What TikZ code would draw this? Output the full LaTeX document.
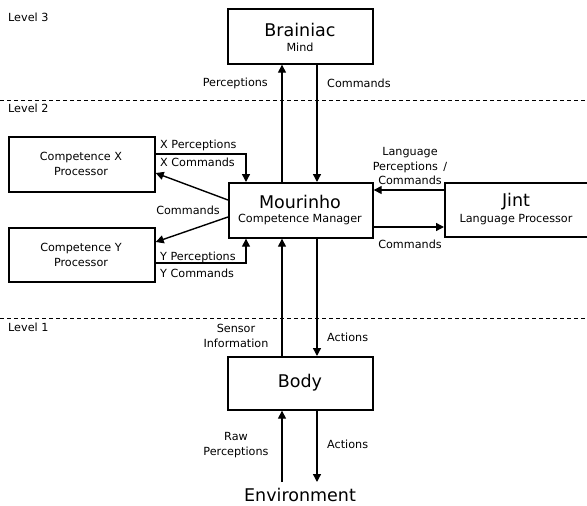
\documentclass[tikz,border=0pt]{standalone}
\usepackage{fontspec}
\setmainfont{DejaVu Sans}
\usetikzlibrary{arrows.meta}

\tikzset{
  box/.style={draw, line width=1.7pt, inner sep=0pt, anchor=north west},
  arr/.style={line width=1.4pt, -{Triangle[length=8pt,width=8pt]}},
  plain/.style={line width=1.4pt},
  lvl/.style={dashed, line width=0.8pt, dash pattern=on 4pt off 3pt},
  big/.style={inner sep=0pt, font=\fontsize{17.5}{20}\selectfont},
  small/.style={inner sep=0pt, font=\fontsize{11.2}{14.5}\selectfont, align=center},
}

\begin{document}
\begin{tikzpicture}[x=1pt, y=-1pt]
  \clip (0,0) rectangle (587,506);
  \fill[white] (0,0) rectangle (587,506);

  % level separators and level names
  \coordinate (l3l) at (0,100);   \coordinate (l3r) at (587,100);
  \coordinate (l2l) at (0,318);   \coordinate (l2r) at (587,318);
  \draw[lvl] (l3l) -- (l3r);
  \draw[lvl] (l2l) -- (l2r);
  \node[small, anchor=west] (lev3) at (8,17)  {Level 3};
  \node[small, anchor=west] (lev2) at (8,108) {Level 2};
  \node[small, anchor=west] (lev1) at (8,327) {Level 1};

  % boxes
  \node[box, minimum width=145pt, minimum height=55pt] (brain) at (227,8)   {};
  \node[box, minimum width=144pt, minimum height=55pt] (mour)  at (228,182) {};
  \node[box, minimum width=146pt, minimum height=55pt] (cx)    at (8,136)   {};
  \node[box, minimum width=146pt, minimum height=54pt] (cy)    at (8,227)   {};
  \node[box, minimum width=160pt, minimum height=54pt] (jint)  at (444,182) {};
  \node[box, minimum width=145pt, minimum height=53pt] (body)  at (227,356) {};

  % box captions
  \node[big]   (braint) at (300,30)  {Brainiac};
  \node[small] (brains) at (300,47)  {Mind};
  \node[big]   (mourt)  at (300,202) {Mourinho};
  \node[small] (mours)  at (300,220) {Competence Manager};
  \node[small] (cxt)    at (81,164)  {Competence X\\Processor};
  \node[small] (cyt)    at (81,255)  {Competence Y\\Processor};
  \node[big]   (jintt)  at (516,202) {Jint};
  \node[small] (jints)  at (516,220) {Language Processor};
  \node[big]   (bodyt)  at (300,383) {Body};
  \node[big]   (env)    at (300,495) {Environment};

  % columns of the vertical connectors
  \coordinate (cL) at (282,0);
  \coordinate (cR) at (317,0);
  \coordinate (cX) at (246,0);
  \coordinate (envtop) at (0,482);

  % Brainiac <-> Mourinho
  \draw[arr] (mour.north -| cL) -- (brain.south -| cL);
  \draw[arr] (brain.south -| cR) -- (mour.north -| cR);
  \node[small, anchor=east] (percl) at (268,83) {Perceptions};
  \node[small, anchor=west] (cmdl)  at (327,83) {Commands};

  % competence processors
  \draw[arr] ([yshift=-18pt]cx.north east) -| (mour.north -| cX);
  \draw[arr] ([yshift=-36pt]cy.north east) -| (mour.south -| cX);
  \draw[arr] ([yshift=-18pt]mour.north west) -- ([yshift=-37pt]cx.north east);
  \draw[arr] ([yshift=-35pt]mour.north west) -- ([yshift=-15pt]cy.north east);
  \node[small, anchor=west] (xp) at (160,145) {X Perceptions};
  \node[small, anchor=west] (xc) at (160,162) {X Commands};
  \node[small]              (cc) at (188,210) {Commands};
  \node[small, anchor=west] (yp) at (160,257) {Y Perceptions};
  \node[small, anchor=west] (yc) at (160,273) {Y Commands};

  % language processor
  \draw[arr] ([yshift=-8pt]jint.north west) -- ([yshift=-8pt]mour.north east);
  \draw[arr] ([yshift=-45pt]mour.north east) -- ([yshift=-45pt]jint.north west);
  \node[small] (langl) at (410,166) {Language\\Perceptions \,/\\Commands};
  \node[small] (jcmd)  at (410,244) {Commands};

  % Mourinho <-> Body
  \draw[arr] (body.north -| cL) -- (mour.south -| cL);
  \draw[arr] (mour.south -| cR) -- (body.north -| cR);
  \node[small] (sens) at (236,336) {Sensor\\Information};
  \node[small, anchor=west] (act1) at (327,337) {Actions};

  % Body <-> Environment
  \draw[arr] (envtop -| cL) -- (body.south -| cL);
  \draw[arr] (body.south -| cR) -- (envtop -| cR);
  \node[small] (raw) at (236,445) {Raw\\Perceptions};
  \node[small, anchor=west] (act2) at (327,444) {Actions};
\end{tikzpicture}
\end{document}
